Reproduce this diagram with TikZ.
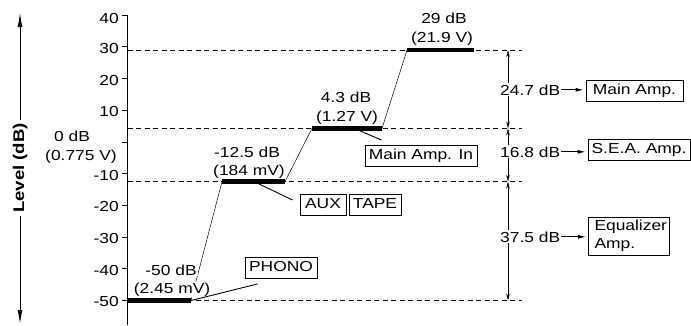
\documentclass[tikz,border=0pt]{standalone}
\usepackage{fontspec}
\setmainfont{Liberation Sans}[FakeStretch=1.2]
\usetikzlibrary{arrows.meta,calc}
\begin{document}
\begin{tikzpicture}[x=1pt,y=-1pt,font=\fontsize{14.5}{18}\selectfont]
\tikzset{
  dashline/.style={dash pattern=on 5pt off 3.5pt, line width=0.6pt},
  levelbar/.style={line width=4.5pt, line cap=butt},
  slant/.style={line width=0.5pt},
  connector/.style={line width=0.9pt},
  boxnode/.style={draw, line width=0.9pt, inner sep=0pt, text height=10.4pt, text depth=3pt, minimum height=21pt},
  val/.style={anchor=base, inner sep=0pt},
  dimarrow/.style={{Stealth[length=7pt,width=3.5pt]}-{Stealth[length=7pt,width=3.5pt]}, line width=0.5pt},
  toarrow/.style={-{Latex[length=8pt,width=4pt]}, line width=0.9pt, shorten >=2pt},
  dimlabel/.style={anchor=base west, inner sep=1pt, fill=white},
}
\useasboundingbox (0,0) rectangle (691,325);

% coordinates of levels
\coordinate (a29) at (127.5,50.1);   \coordinate (e29) at (522,50.1);
\coordinate (a43) at (127.5,128.4);  \coordinate (e43) at (522,128.4);
\coordinate (a125) at (127.5,181.6); \coordinate (e125) at (522,181.6);
\coordinate (a50) at (127.5,300.5);  \coordinate (e50) at (522,300.5);

% dashed reference lines
\foreach \n in {29,43,125,50} \draw[dashline] (a\n) -- (e\n);

% vertical axis and ticks
\coordinate (axtop) at (127.5,15.2);
\coordinate (axbot) at (127.5,325);
\draw[line width=0.9pt] (122,15.2) -- (axtop) -- (axbot);
\foreach \v/\l/\dy in {40/40/3,30/30/2,20/20/2,10/10/1.5,0//0,-10/-10/1.5,-20/-20/1.5,-30/-30/1.5,-40/-40/1.5,-50/-50/1.5}{
  \pgfmathsetmacro\yy{142-3.17*\v}
  \draw[line width=0.9pt] (122,\yy) -- (127.5,\yy);
  \node[anchor=east,inner sep=0pt] (t\v) at (119,\yy+\dy) {\l};
}

% axis title
\coordinate (ytop) at (20,13);
\coordinate (ybot) at (20,324);
\draw[{Latex[length=14pt,width=5pt]}-{Latex[length=14pt,width=5pt]}, line width=1pt] (ytop) -- (ybot);
\node[rotate=90, fill=white, inner sep=3pt, font=\fontsize{15.5}{18}\selectfont\bfseries] (ylab) at (20,168) {Level (dB)};

% 0 dB label
\node[val] (zdb) at (72,141) {0 dB};
\node[val] (zv) at (81,160) {(0.775 V)};

% bar end coordinates
\coordinate (b50w) at (128,300.5);  \coordinate (b50e) at (191,300.5);
\coordinate (b125w) at (222,181.6); \coordinate (b125e) at (285,181.6);
\coordinate (b43w) at (312,128.4);  \coordinate (b43e) at (382,128.4);
\coordinate (b29w) at (407,50.1);   \coordinate (b29e) at (474,50.1);

% slanted transitions
\draw[slant] (b50e) -- (b125w);
\draw[slant] (b125e) -- (b43w);
\draw[slant] (b43e) -- (b29w);

% level values
\node[val, fill=white, inner sep=1pt] (v50a) at (171,275) {-50 dB};
\node[val, fill=white, inner sep=1pt] (v50b) at (172,293) {(2.45 mV)};
\node[val] (v125a) at (247,157.5) {-12.5 dB};
\node[val] (v125b) at (249,175.5) {(184 mV)};
\node[val] (v43a) at (346,102) {4.3 dB};
\node[val] (v43b) at (347,121) {(1.27 V)};
\node[val] (v29a) at (444,23) {29 dB};
\node[val] (v29b) at (442,42) {(21.9 V)};

% bars
\draw[levelbar] (b50w) -- (b50e);
\draw[levelbar] (b125w) -- (b125e);
\draw[levelbar] (b43w) -- (b43e);
\draw[levelbar] (b29w) -- (b29e);

% input boxes
\node[boxnode, minimum width=112pt] (mai) at (421,156) {Main Amp. In};
\node[boxnode, minimum width=46pt] (aux) at (323,205) {AUX};
\node[boxnode, minimum width=52pt] (tape) at (375,205) {TAPE};
\node[boxnode, minimum width=72pt] (phono) at (281,268) {PHONO};

\coordinate (c43) at (358,130);
\coordinate (c125) at (257,183);
\draw[connector] (c43) -- ($(mai.north west)+(17,-5)$);
\draw[connector] (c125) -- ($(aux.west)+(-7,-5)$);
\draw[connector] ($(phono.south west)+(13,5)$) -- (b50e);

% dimension line
\coordinate (d29) at (508,50.1);
\coordinate (d43) at (508,128.4);
\coordinate (d125) at (508,181.6);
\coordinate (d50) at (508,300.5);
\draw[dimarrow] (d29) -- (d43);
\draw[dimarrow] (d43) -- (d125);
\draw[dimarrow] (d125) -- (d50);

\node[dimlabel] (g247) at (499,95) {24.7 dB};
\node[dimlabel] (g168) at (499,157) {16.8 dB};
\node[dimlabel] (g375) at (499,242) {37.5 dB};

% amplifier boxes
\node[boxnode, minimum width=97pt] (mainamp) at (634.5,91) {Main Amp.};
\node[boxnode, minimum width=102pt] (seaamp) at (639,149.5) {S.E.A. Amp.};
\node[draw, line width=0.9pt, align=left, text width=69pt, inner xsep=6pt, inner ysep=0pt, minimum height=38pt] (eqamp) at (629,236) {Equalizer\\Amp.};

\draw[toarrow] (g247.east) -- (g247.east -| mainamp.west);
\draw[toarrow] (g168.east) -- (g168.east -| seaamp.west);
\draw[toarrow] (g375.east) -- (g375.east -| eqamp.west);
\end{tikzpicture}
\end{document}
